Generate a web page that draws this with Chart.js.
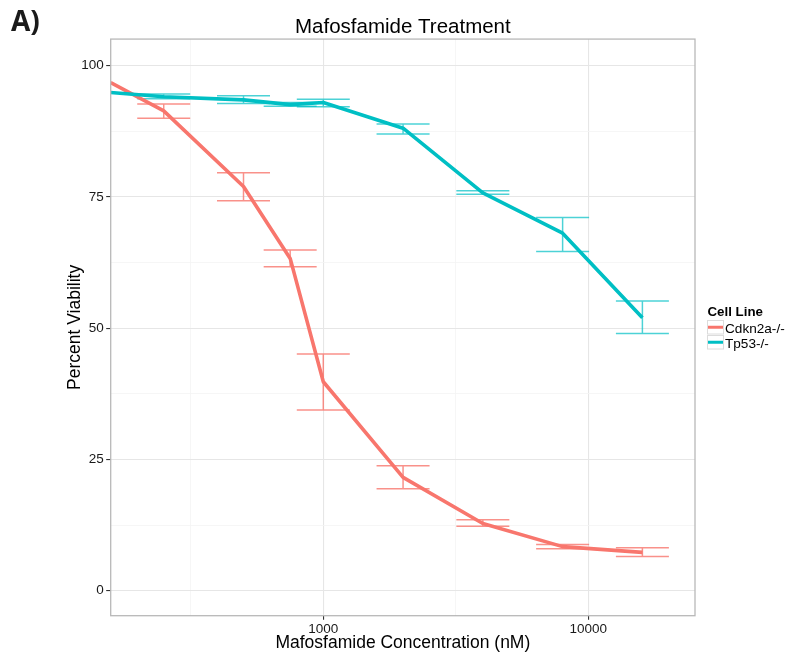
<!DOCTYPE html>
<html>
<head>
<meta charset="utf-8">
<title>Mafosfamide Treatment</title>
<script src="https://cdn.jsdelivr.net/npm/chart.js@4.4.1/dist/chart.umd.min.js"></script>
<style>
  html, body { margin: 0; padding: 0; background: #ffffff; }
  #wrap { width: 788px; height: 655px; position: relative; }
</style>
</head>
<body>
<div id="wrap"><canvas id="chart" width="788" height="655"></canvas></div>
<script>
// Drug concentrations (nM); 0 is the untreated control.
const concentrations = [0, 250, 500, 750, 1000, 2000, 4000, 8000, 16000];

// Percent viability, mean and error-bar limits per cell line.
const cdkn2aMean = [96.8, 91.4, 77.0, 63.3, 39.8, 21.6, 12.8, 8.4, 7.3];
const cdkn2aLow  = [null, 90.0, 74.3, 61.7, 34.4, 19.4, 12.3, 8.0, 6.5];
const cdkn2aHigh = [null, 92.7, 79.6, 64.9, 45.1, 23.8, 13.5, 8.8, 8.2];

const tp53Mean = [94.9, 94.1, 93.5, 92.6, 93.0, 88.1, 75.8, 68.1, 52.0];
const tp53Low  = [null, 93.7, 92.8, 92.3, 92.2, 87.0, 75.5, 64.6, 49.0];
const tp53High = [null, 94.6, 94.3, 93.0, 93.6, 88.9, 76.2, 71.1, 55.2];

const seriesNames = ['Cdkn2a-/-', 'Tp53-/-'];

// Axis breaks
const yTickValues  = [0, 25, 50, 75, 100];
const yMinorValues = [12.5, 37.5, 62.5, 87.5];
const xTickValues  = [1000, 10000];
const xMinorValues = [316.228, 3162.28];

// Axis limits
const X_MIN = 157.7, X_MAX = 25270;
const Y_MIN = -4.76, Y_MAX = 105.08;
const CAP_SPAN = Math.pow(10, 0.1);   // half-width of the error bar caps (log units)

const RED = '#F8766D', TEAL = '#00BFC4';
const RED_BAR = 'rgba(248,118,109,0.8)', TEAL_BAR = 'rgba(0,191,196,0.7)';

const errorLimits = {
  'Cdkn2a-/-': { low: cdkn2aLow, high: cdkn2aHigh, color: RED_BAR },
  'Tp53-/-':   { low: tp53Low,   high: tp53High,   color: TEAL_BAR }
};

// control (0 nM) sits on the left edge of the log axis
function toPoints(values) {
  return concentrations.map((c, i) => ({ x: c === 0 ? X_MIN : c, y: values[i] }));
}

function buildTicks(major, minor) {
  return major.map(v => ({ value: v, minor: false }))
    .concat(minor.map(v => ({ value: v, minor: true })))
    .sort((a, b) => a.value - b.value);
}

const FONT = '"Liberation Sans", Arial, sans-serif';

const errorBarPlugin = {
  id: 'errorBars',
  beforeDatasetsDraw(chart) {
    const { ctx, chartArea } = chart;
    ctx.save();
    ctx.beginPath();
    ctx.rect(chartArea.left, chartArea.top, chartArea.right - chartArea.left, chartArea.bottom - chartArea.top);
    ctx.clip();
    chart.data.datasets.forEach((ds, di) => {
      const lim = errorLimits[ds.label];
      const meta = chart.getDatasetMeta(di);
      const xs = chart.scales[meta.xAxisID], ys = chart.scales[meta.yAxisID];
      ctx.strokeStyle = lim.color;
      ctx.lineWidth = 1.5;
      lim.low.forEach((lo, i) => {
        const hi = lim.high[i];
        if (lo == null || hi == null) return;
        const c = concentrations[i];
        const xc = xs.getPixelForValue(c);
        const xl = xs.getPixelForValue(c / CAP_SPAN);
        const xr = xs.getPixelForValue(c * CAP_SPAN);
        const yl = ys.getPixelForValue(lo), yh = ys.getPixelForValue(hi);
        ctx.beginPath();
        ctx.moveTo(xl, yh); ctx.lineTo(xr, yh);
        ctx.moveTo(xc, yh); ctx.lineTo(xc, yl);
        ctx.moveTo(xl, yl); ctx.lineTo(xr, yl);
        ctx.stroke();
      });
    });
    ctx.restore();
  }
};

const framePlugin = {
  id: 'frame',
  afterDraw(chart) {
    const { ctx, chartArea } = chart;
    ctx.save();
    // panel border
    ctx.strokeStyle = '#b8b8b8';
    ctx.lineWidth = 1.3;
    ctx.strokeRect(chartArea.left, chartArea.top, chartArea.right - chartArea.left, chartArea.bottom - chartArea.top);

    // panel tag
    ctx.fillStyle = '#1a1a1a';
    ctx.font = '700 28px "Open Sans", sans-serif';
    ctx.textBaseline = 'alphabetic';
    ctx.textAlign = 'left';
    ctx.fillText('A)', 11, 30.5);

    // legend
    const lx = 707.5;
    ctx.fillStyle = '#000';
    ctx.font = '700 13.3px ' + FONT;
    ctx.fillText('Cell Line', lx, 315.5);
    const rows = [{ y: 320.5, color: RED }, { y: 335.5, color: TEAL }];
    chart.data.datasets.forEach((ds, i) => {
      const r = rows[i];
      ctx.fillStyle = '#ffffff';
      ctx.fillRect(lx, r.y, 16, 13.5);
      ctx.strokeStyle = '#dcdcdc';
      ctx.lineWidth = 1;
      ctx.strokeRect(lx, r.y, 16, 13.5);
      ctx.strokeStyle = ds.borderColor;
      ctx.lineWidth = 3;
      ctx.beginPath();
      ctx.moveTo(lx + 0.5, r.y + 6.75);
      ctx.lineTo(lx + 15.5, r.y + 6.75);
      ctx.stroke();
      ctx.fillStyle = '#000';
      ctx.font = '13.6px ' + FONT;
      ctx.fillText(ds.label, lx + 17.5, r.y + 12.3);
    });
    ctx.restore();
  }
};

const gridColor = ctx => (ctx.tick && ctx.tick.minor) ? '#f4f4f4' : '#e6e6e6';
const gridWidth = ctx => (ctx.tick && ctx.tick.minor) ? 0.8 : 1.1;
const tickColor = ctx => (ctx.tick && ctx.tick.minor) ? 'rgba(0,0,0,0)' : '#333333';
const tickLabel = (v, i, ticks) => ticks[i].minor ? '' : String(ticks[i].value);

new Chart(document.getElementById('chart'), {
  type: 'line',
  data: {
    datasets: [
      { label: seriesNames[0], data: toPoints(cdkn2aMean), borderColor: RED, backgroundColor: RED,
        borderWidth: 3.6, pointRadius: 0, tension: 0, borderJoinStyle: 'round', clip: 0, order: 1 },
      { label: seriesNames[1], data: toPoints(tp53Mean), borderColor: TEAL, backgroundColor: TEAL,
        borderWidth: 3.6, pointRadius: 0, tension: 0, borderJoinStyle: 'round', clip: 0, order: 0 }
    ]
  },
  options: {
    responsive: false,
    animation: false,
    devicePixelRatio: 1,
    events: [],
    layout: { padding: { top: 0, right: 93, bottom: 0, left: 0 } },
    plugins: {
      legend: { display: false },
      tooltip: { enabled: false },
      title: {
        display: true,
        text: 'Mafosfamide Treatment',
        fullSize: false,
        color: '#000',
        font: { family: FONT, size: 20.5, weight: 'normal', lineHeight: 1.15 },
        padding: { top: 15.5, bottom: 0 }
      }
    },
    scales: {
      x: {
        type: 'logarithmic',
        min: X_MIN, max: X_MAX,
        afterBuildTicks: s => { s.ticks = buildTicks(xTickValues, xMinorValues); },
        afterFit: s => { s.height = 39.3; },
        border: { display: false },
        grid: { color: gridColor, lineWidth: gridWidth, tickColor: tickColor, tickLength: 4, drawTicks: true },
        ticks: { autoSkip: false, maxRotation: 0, padding: 1, color: '#1a1a1a',
                 font: { family: FONT, size: 13.5 }, callback: tickLabel },
        title: { display: true, text: 'Mafosfamide Concentration (nM)', color: '#000',
                 font: { family: FONT, size: 17.5 }, padding: { top: 0, bottom: 1.5 } }
      },
      y: {
        type: 'linear',
        min: Y_MIN, max: Y_MAX,
        afterBuildTicks: s => { s.ticks = buildTicks(yTickValues, yMinorValues); },
        afterFit: s => { s.width = 110.7; },
        border: { display: false },
        grid: { color: gridColor, lineWidth: gridWidth, tickColor: tickColor, tickLength: 4.5, drawTicks: true },
        ticks: { autoSkip: false, padding: 2.5, color: '#1a1a1a',
                 font: { family: FONT, size: 13.5 }, callback: tickLabel },
        title: { display: true, text: 'Percent Viability', color: '#000',
                 font: { family: FONT, size: 17.5 }, padding: { top: 64.5, bottom: 0 } }
      }
    }
  },
  plugins: [errorBarPlugin, framePlugin]
});
</script>
</body>
</html>
